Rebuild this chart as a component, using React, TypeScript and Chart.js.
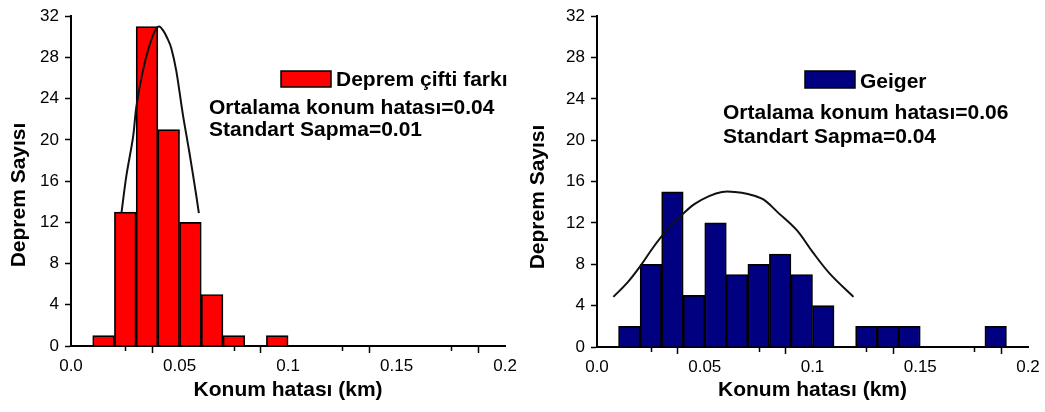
import React, { useEffect, useRef } from "react";
import { Chart, registerables } from "chart.js";

Chart.register(...registerables);

const FONT = "'Liberation Sans', Arial, Helvetica, sans-serif";

// ---- Shared text ----
const yAxisTitle = "Deprem Sayısı";
const xAxisTitle = "Konum hatası (km)";
const yTickStep = 4;
const yMax = 32;
const xMax = 0.2;
const xTickStep = 0.025;

// ---- Left panel: Deprem çifti farkı ----
const binCentersA = [0.015, 0.025, 0.035, 0.045, 0.055, 0.065, 0.075, 0.095];
const countsA = [1, 13, 31, 21, 12, 5, 1, 1];
const curveXA = [0.0233, 0.0255, 0.0286, 0.0301, 0.033, 0.0358, 0.0385, 0.0405, 0.0425, 0.0445, 0.0462, 0.0485, 0.0515, 0.0546, 0.0577, 0.0589];
const curveYA = [13.0, 16.5, 20.3, 23.2, 26.6, 28.9, 30.5, 31.0, 30.6, 29.8, 28.9, 26.7, 22.5, 18.7, 14.6, 12.9];
const legendA = "Deprem çifti farkı";
const statsA = ["Ortalama konum hatası=0.04", "Standart Sapma=0.01"];

// ---- Right panel: Geiger ----
const binCentersB = [0.015, 0.025, 0.035, 0.045, 0.055, 0.065, 0.075, 0.085, 0.095, 0.105, 0.125, 0.135, 0.145, 0.185];
const countsB = [2, 8, 15, 5, 12, 7, 8, 9, 7, 4, 2, 2, 2, 2];
const curveXB = [0.0076, 0.014, 0.02, 0.0263, 0.0324, 0.0385, 0.045, 0.052, 0.058, 0.064, 0.07, 0.077, 0.084, 0.0927, 0.1, 0.108, 0.119];
const curveYB = [4.85, 6.2, 7.8, 9.7, 11.3, 12.6, 13.8, 14.6, 15.0, 15.0, 14.8, 14.3, 13.0, 11.3, 9.2, 7.1, 4.85];
const legendB = "Geiger";
const statsB = ["Ortalama konum hatası=0.06", "Standart Sapma=0.04"];

type PanelProps = {
  width: number;
  height: number;
  centers: number[];
  counts: number[];
  curveX: number[];
  curveY: number[];
  color: string;
  legend: string;
  stats: string[];
  axisLeft: number;
  padRight: number;
  padTop: number;
  xAxisHeight: number;
  yTitlePos: [number, number];
  legendBox: [number, number, number, number];
  legendTextPos: [number, number];
  statsPos: [number, number, number];
};

function Panel(p: PanelProps) {
  const ref = useRef<HTMLCanvasElement | null>(null);
  useEffect(() => {
    if (!ref.current) return;
    const overlay = {
      id: "overlay",
      afterDraw(chart: any) {
        const ctx = chart.ctx;
        ctx.save();
        // minor x ticks (shorter)
        const xs = chart.scales.x;
        const bottom = chart.chartArea.bottom;
        ctx.strokeStyle = "#000";
        ctx.lineWidth = 1.5;
        xs.ticks.forEach((t: any, i: number) => {
          if (i % 2 === 1) {
            const px = Math.round(xs.getPixelForValue(t.value)) + 0.5;
            ctx.beginPath();
            ctx.moveTo(px, bottom);
            ctx.lineTo(px, bottom + 5);
            ctx.stroke();
          }
        });
        ctx.fillStyle = "#000";
        ctx.font = `bold 21px ${FONT}`;
        // y axis title
        ctx.save();
        ctx.translate(p.yTitlePos[0], p.yTitlePos[1]);
        ctx.rotate(-Math.PI / 2);
        ctx.textAlign = "center";
        ctx.textBaseline = "middle";
        ctx.fillText(yAxisTitle, 0, 0);
        ctx.restore();
        // legend
        const [bx, by, bw, bh] = p.legendBox;
        ctx.fillStyle = p.color;
        ctx.fillRect(bx, by, bw, bh);
        ctx.strokeStyle = "#000";
        ctx.lineWidth = 1.5;
        ctx.strokeRect(bx, by, bw, bh);
        ctx.fillStyle = "#000";
        ctx.textAlign = "left";
        ctx.textBaseline = "middle";
        ctx.fillText(p.legend, p.legendTextPos[0], p.legendTextPos[1]);
        const [sx, sy, sgap] = p.statsPos;
        p.stats.forEach((s, i) => ctx.fillText(s, sx, sy + i * sgap));
        ctx.restore();
      },
    };
    const chart = new Chart(ref.current, {
      type: "bar",
      data: {
        datasets: [
          {
            type: "line",
            data: p.curveX.map((x, i) => ({ x, y: p.curveY[i] })),
            borderColor: "#111",
            borderWidth: 2,
            pointRadius: 0,
            tension: 0.35,
            fill: false,
            order: 0,
          } as any,
          {
            type: "bar",
            data: p.centers.map((x, i) => ({ x, y: p.counts[i] })),
            backgroundColor: p.color,
            borderColor: "#000",
            borderWidth: 1.7,
            barPercentage: 1,
            categoryPercentage: 1,
            grouped: false,
            order: 1,
          } as any,
        ],
      },
      options: {
        animation: false,
        responsive: false,
        maintainAspectRatio: false,
        events: [],
        layout: { padding: { left: 0, right: p.padRight, top: p.padTop, bottom: 0 } },
        plugins: { legend: { display: false }, tooltip: { enabled: false }, title: { display: false } },
        scales: {
          x: {
            type: "linear",
            min: 0,
            max: xMax,
            offset: false,
            afterFit: (s: any) => {
              s.height = p.xAxisHeight;
            },
            grid: {
              drawOnChartArea: false,
              drawTicks: true,
              tickLength: 7,
              color: "#000",
              tickColor: (c: any) => (c.index % 2 === 1 ? "rgba(0,0,0,0)" : "#000"),
              tickWidth: 1.5,
            },
            border: { display: true, color: "#000", width: 2 },
            ticks: {
              stepSize: xTickStep,
              autoSkip: false,
              maxRotation: 0,
              padding: 3,
              color: "#000",
              font: { family: FONT, size: 17 },
              callback: (v: any, i: number) => {
                if (i % 2 === 1) return "";
                const n = Number(v);
                if (Math.abs(n) < 1e-9) return "0.0";
                return String(Math.round(n * 1000) / 1000);
              },
            },
            title: {
              display: true,
              text: xAxisTitle,
              color: "#000",
              font: { family: FONT, size: 21, weight: "bold" },
              padding: { top: 0, bottom: 9 },
            },
          },
          y: {
            type: "linear",
            min: 0,
            max: yMax,
            afterFit: (s: any) => {
              s.width = p.axisLeft;
            },
            grid: { drawOnChartArea: false, drawTicks: true, tickLength: 6, color: "#000", tickWidth: 1.5 },
            border: { display: true, color: "#000", width: 2 },
            ticks: {
              stepSize: yTickStep,
              padding: 6,
              color: "#000",
              font: { family: FONT, size: 17 },
            },
          },
        },
      } as any,
      plugins: [overlay],
    });
    return () => chart.destroy();
  }, []);
  return <canvas ref={ref} width={p.width} height={p.height} style={{ display: "block", width: p.width, height: p.height }} />;
}

export default function App() {
  return (
    <div style={{ position: "absolute", left: 0, top: 0, width: 1045, height: 412, background: "#fff", display: "flex" }}>
      <Panel
        width={520}
        height={412}
        centers={binCentersA}
        counts={countsA}
        curveX={curveXA}
        curveY={curveYA}
        color="#ff0000"
        legend={legendA}
        stats={statsA}
        axisLeft={71}
        padRight={13}
        padTop={11}
        xAxisHeight={66}
        yTitlePos={[19, 195]}
        legendBox={[281, 71, 50, 16]}
        legendTextPos={[336, 80]}
        statsPos={[209, 108, 22]}
      />
      <Panel
        width={525}
        height={412}
        centers={binCentersB}
        counts={countsB}
        curveX={curveXB}
        curveY={curveYB}
        color="#000080"
        legend={legendB}
        stats={statsB}
        axisLeft={77}
        padRight={17}
        padTop={15}
        xAxisHeight={65}
        yTitlePos={[18, 197]}
        legendBox={[285, 71, 50, 17]}
        legendTextPos={[340, 82]}
        statsPos={[203, 113, 24]}
      />
    </div>
  );
}
